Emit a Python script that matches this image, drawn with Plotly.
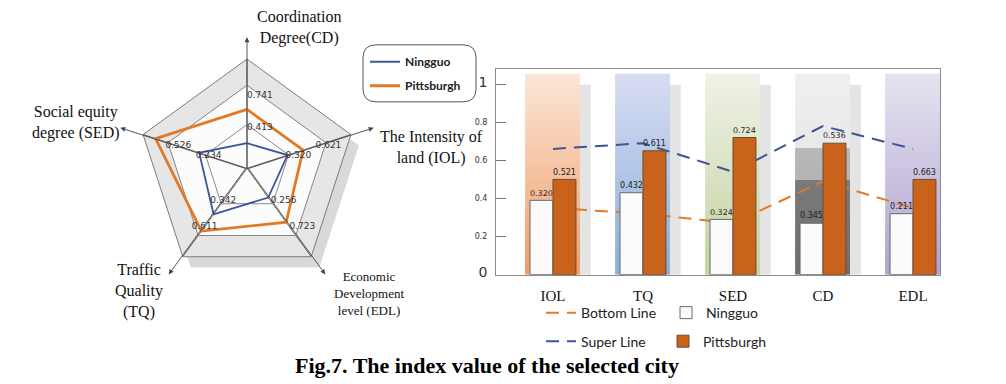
import math
import plotly.graph_objects as go

# ---------------- data ----------------
radar_axes = ["CD", "IOL", "EDL", "TQ", "SED"]          # clockwise from the top
ningguo_radar = [0.23, 0.39, 0.33, 0.52, 0.46]
pitts_radar = [0.54, 0.54, 0.61, 0.71, 0.88]
ningguo_radar_labels = ["0.413", "0.320", "0.256", "0.342", "0.234"]
pitts_radar_labels = ["0.741", "0.621", "0.723", "0.611", "0.526"]
radar_titles = ["Coordination<br>Degree(CD)", "The Intensity of<br>land (IOL)",
                "Economic<br>Development<br>level (EDL)", "Traffic<br>Quality<br>(TQ)",
                "Social equity<br>degree (SED)"]

bar_cats = ["IOL", "TQ", "SED", "CD", "EDL"]
ningguo_bars = [0.39, 0.43, 0.29, 0.27, 0.32]
pitts_bars = [0.50, 0.65, 0.72, 0.69, 0.50]
ningguo_bar_labels = ["0.320", "0.432", "0.324", "0.345", "0.211"]
pitts_bar_labels = ["0.521", "0.611", "0.724", "0.536", "0.663"]
bottom_line = [0.35, 0.32, 0.27, 0.49, 0.35]
super_line = [0.66, 0.69, 0.54, 0.78, 0.66]
y_ticks = [0, 0.2, 0.4, 0.6, 0.8, 1]

# ---------------- styles ----------------
W, H = 1006, 384
def px(x): return x / W
def py(y): return 1 - y / H

SERIF = "Liberation Serif"
SANS = "DejaVu Sans"
LEG = "Lato"
ORANGE = "#E07A26"
BLUE = "#3D55A0"
BAR_OR = "#C9631C"

band_scales = [
    [[0, "#EF9C66"], [1, "#FBE6D8"]],
    [[0, "#89AFDA"], [1, "#D8DCF1"]],
    [[0, "#C2D39F"], [1, "#EFF2E7"]],
    [[0, "#6E6E6E"], [0.47, "#7A7A7A"], [0.472, "#B4B4B4"], [0.63, "#B8B8B8"], [0.632, "#E9E9E9"], [1, "#EFEFEF"]],
    [[0, "#B0A2D1"], [1, "#E6E3EF"]],
]

fig = go.Figure()

# ---------------- radar ----------------
CX, CY, R = 247, 171, 111
# shadow polygon (subplot "polar", drawn first)
fig.add_trace(go.Scatterpolar(r=[0 for _ in radar_axes], theta=radar_axes, subplot="polar",
                              mode="lines", line=dict(width=0), opacity=0,
                              showlegend=False, hoverinfo="skip"))
# grey outer band
ring_theta = radar_axes + [radar_axes[0]] + [radar_axes[0]] + radar_axes[::-1]
ring_r = [1.0] * (len(radar_axes) + 1) + [0.76] * (len(radar_axes) + 1)
fig.add_trace(go.Scatterpolar(r=ring_r, theta=ring_theta, subplot="polar2", mode="lines",
                              fill="toself", fillcolor="rgba(0,0,0,0.085)", line=dict(width=0),
                              showlegend=False, hoverinfo="skip"))
fig.add_trace(go.Scatterpolar(r=ningguo_radar + ningguo_radar[:1], theta=radar_axes + radar_axes[:1],
                              subplot="polar2", mode="lines", name="Ningguo",
                              line=dict(color=BLUE, width=1.8), legend="legend", legendgroup="n"))
fig.add_trace(go.Scatterpolar(r=pitts_radar + pitts_radar[:1], theta=radar_axes + radar_axes[:1],
                              subplot="polar2", mode="lines", name="Pittsburgh",
                              line=dict(color=ORANGE, width=2.8), legend="legend", legendgroup="p"))
label_pos = ["middle right", "middle right", "middle right", "middle center", "middle center"]
fig.add_trace(go.Scatterpolar(r=[0.66] * 5, theta=radar_axes, subplot="polar2", mode="text",
                              text=pitts_radar_labels, textposition=label_pos,
                              textfont=dict(family=SANS, size=9, color="#333"), showlegend=False))
fig.add_trace(go.Scatterpolar(r=[0.37] * 5, theta=radar_axes, subplot="polar2", mode="text",
                              text=ningguo_radar_labels, textposition=label_pos,
                              textfont=dict(family=SANS, size=9, color="#333"), showlegend=False))

ang = dict(rotation=90, direction="clockwise", categoryorder="array", categoryarray=radar_axes)
fig.update_layout(
    polar=dict(domain=dict(x=[px(CX - R + 8), px(CX + R + 8)], y=[py(CY + R + 11), py(CY - R + 11)]),
               gridshape="linear", bgcolor="#D9D9D9",
               radialaxis=dict(visible=False, range=[0, 1]),
               angularaxis=dict(visible=False, **ang)),
    polar2=dict(domain=dict(x=[px(CX - R), px(CX + R)], y=[py(CY + R), py(CY - R)]),
                gridshape="linear", bgcolor="#FCFCFC",
                radialaxis=dict(range=[0, 1], tickvals=[0.40, 0.76], showticklabels=False, ticks="",
                                showline=False, gridcolor="#8A8A8A", gridwidth=0.8),
                angularaxis=dict(showticklabels=False, ticks="", showline=True, linecolor="#7A7A7A",
                                 linewidth=1, gridcolor="#6A6A6A", gridwidth=0.8, **ang)),
)

annotations = []
# axis arrows
for k in range(len(radar_axes)):
    a = math.radians(90 - 72 * k)
    L = 1.2 * R
    tx, ty = CX + L * math.cos(a), CY - L * math.sin(a)
    annotations.append(dict(x=px(tx), y=py(ty), xref="paper", yref="paper", text="",
                            showarrow=True, ax=CX - tx, ay=CY - ty, arrowhead=2, arrowsize=1.1,
                            arrowwidth=0.9, arrowcolor="#444", standoff=0, startstandoff=0))
title_pos = [(299, 28, 16), (431, 150, 16), (369, 298, 13), (139, 296, 16), (76, 124, 16)]
for t, (x, y, s) in zip(radar_titles, title_pos):
    annotations.append(dict(x=px(x), y=py(y), xref="paper", yref="paper", text=t, showarrow=False,
                            xanchor="center", yanchor="middle",
                            font=dict(family=SERIF, size=s, color="#111"), align="center"))
annotations.append(dict(x=px(487), y=py(371), xref="paper", yref="paper", xanchor="center",
                        yanchor="middle",
                        text="<b>Fig.7. The index value of the selected city</b>", showarrow=False,
                        font=dict(family=SERIF, size=22, color="#000")))

# ---------------- bar chart ----------------
xs = list(range(len(bar_cats)))
for i, sc in zip(xs, band_scales):
    # shadow strip
    fig.add_trace(go.Scatter(x=[i - 0.19, i + 0.42, i + 0.42, i - 0.19, i - 0.19], y=[0, 0, 0.997, 0.997, 0],
                             mode="lines", fill="toself", fillcolor="#E4E4E4", line=dict(width=0),
                             showlegend=False, hoverinfo="skip", xaxis="x", yaxis="y"))
for i, sc in zip(xs, band_scales):
    fig.add_trace(go.Scatter(x=[i - 0.31, i + 0.30, i + 0.30, i - 0.31, i - 0.31], y=[0, 0, 1.054, 1.054, 0],
                             mode="lines", fill="toself", fillgradient=dict(type="vertical", colorscale=sc),
                             line=dict(width=0), showlegend=False, hoverinfo="skip", xaxis="x", yaxis="y"))

fig.add_trace(go.Scatter(x=xs, y=bottom_line, mode="lines", name="Bottom Line",
                         line=dict(color="#E27A2E", width=2, dash="13px,8px"), legend="legend2",
                         xaxis="x", yaxis="y"))
fig.add_trace(go.Scatter(x=xs, y=super_line, mode="lines", name="Super Line",
                         line=dict(color="#3D5597", width=2, dash="13px,8px"), legend="legend4",
                         xaxis="x", yaxis="y"))
fig.add_trace(go.Bar(x=xs, y=ningguo_bars, name="Ningguo", xaxis="x2", yaxis="y2",
                     marker=dict(color="#FBFBFB", line=dict(color="#6A6A6A", width=1)),
                     text=ningguo_bar_labels, textposition="outside", cliponaxis=False,
                     textfont=dict(family=SANS, size=9, color="#222"), legend="legend3"))
fig.add_trace(go.Bar(x=xs, y=pitts_bars, name="Pittsburgh", xaxis="x2", yaxis="y2",
                     marker=dict(color=BAR_OR, line=dict(color="#6E4A30", width=1)),
                     text=pitts_bar_labels, textposition="outside", cliponaxis=False,
                     textfont=dict(family=SANS, size=9, color="#222"), legend="legend5"))

def tick_text(v):
    if v in (0, 1):
        return "<span style='font-size:14px'>%d</span>" % v
    return "%.1f" % v

xr = [-0.633, 4.30]
yr = [0, 1.08]
xdom = [px(496), px(940)]
ydom = [py(279), py(70)]
fig.update_layout(
    xaxis=dict(domain=xdom, range=xr, tickvals=xs, ticktext=bar_cats, showgrid=False, zeroline=False,
               showline=True, mirror=True, linecolor="#8C8C8C", linewidth=1, ticks="",
               tickfont=dict(family=SERIF, size=15, color="#111"), anchor="y", ticklabelstandoff=7),
    yaxis=dict(domain=ydom, range=yr, tickvals=y_ticks, ticktext=[tick_text(v) for v in y_ticks],
               showgrid=False, zeroline=False, showline=True, mirror=True, linecolor="#8C8C8C",
               linewidth=1, ticks="inside", ticklen=10, tickcolor="#777",
               tickfont=dict(family=SANS, size=8, color="#333"), anchor="x", ticklabelstandoff=6),
    xaxis2=dict(overlaying="x", range=xr, visible=False, anchor="y2"),
    yaxis2=dict(overlaying="y", range=yr, visible=False, anchor="x2"),
    barmode="group", bargap=0.49, bargroupgap=0,
)

# ---------------- legends ----------------
leg_common = dict(bgcolor="rgba(0,0,0,0)", borderwidth=0, orientation="h",
                  font=dict(family=LEG, size=14, color="#222"), yanchor="middle", xanchor="left")
fig.update_layout(
    legend=dict(x=px(365), y=py(48), xanchor="left", yanchor="top", orientation="v",
                bgcolor="rgba(0,0,0,0)", borderwidth=0, tracegroupgap=5,
                font=dict(family=LEG, size=12, color="#222", weight="bold")),
    legend2=dict(x=px(541), y=py(318), **leg_common),
    legend3=dict(x=px(666), y=py(318), **leg_common),
    legend4=dict(x=px(541), y=py(347), **leg_common),
    legend5=dict(x=px(663), y=py(347), **leg_common),
)

bw, bh, rr = 113, 57, 13
path = ("M {a},{b} H {c} Q {d},{b} {d},{e} V {f} Q {d},{g} {c},{g} H {a} Q {h},{g} {h},{f} V {e} Q {h},{b} {a},{b} Z"
        .format(a=-bw / 2 + rr, b=-bh / 2, c=bw / 2 - rr, d=bw / 2, e=-bh / 2 + rr, f=bh / 2 - rr,
                g=bh / 2, h=-bw / 2))
fig.update_layout(shapes=[dict(type="path", xref="paper", yref="paper", xsizemode="pixel",
                               ysizemode="pixel", xanchor=px(419.5), yanchor=py(74.5), path=path,
                               line=dict(color="#555", width=1), fillcolor="rgba(0,0,0,0)")])

fig.update_layout(width=W, height=H, margin=dict(l=0, r=0, t=0, b=0), paper_bgcolor="white",
                  plot_bgcolor="rgba(0,0,0,0)", annotations=annotations, showlegend=True)
fig.write_html("out.html", config={"displayModeBar": False},
               post_script="document.body.style.margin='0';document.body.style.overflow='hidden';")
